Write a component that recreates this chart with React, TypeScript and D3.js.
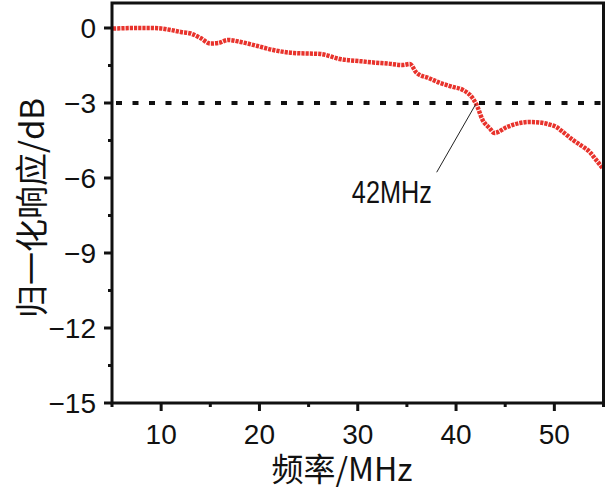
import React from 'react';
import * as d3 from 'd3';

// frequency (MHz) and normalized response (dB)
const freq = [5.1, 6, 7, 8, 9, 10, 11, 12, 13, 14, 15, 15.8, 16.8, 18.1, 19.8, 21.4, 23.5, 26.2, 28.2, 30.3, 31.6, 33, 34.6, 35.3, 36.0, 37.2, 38.4, 39.6, 40.7, 41.6, 42.1, 42.7, 43.4, 43.9, 45.2, 46.5, 47.5, 48.5, 49.4, 50.2, 51.0, 51.9, 52.8, 53.6, 54.2, 54.9];
const response = [-0.02, -0.01, 0, 0, 0, -0.02, -0.08, -0.16, -0.22, -0.4, -0.62, -0.6, -0.48, -0.56, -0.72, -0.88, -1.0, -1.04, -1.24, -1.33, -1.38, -1.42, -1.48, -1.44, -1.8, -2.0, -2.2, -2.35, -2.48, -2.76, -3.08, -3.68, -4.0, -4.2, -3.96, -3.8, -3.76, -3.78, -3.85, -3.96, -4.2, -4.48, -4.72, -4.96, -5.25, -5.6];

const xTicks = [10, 20, 30, 40, 50];
const xMinor = [5, 15, 25, 35, 45, 55];
const yTicks = [0, -3, -6, -9, -12, -15];
const yMinor = [-1.5, -4.5, -7.5, -10.5, -13.5];
const threshold = -3;
const cutoff = { f: 42.1, v: -3.05, label: '42MHz', labelF: 29.4, labelV: -7 };

const W = 614;
const H = 496;
const left = 112;
const right = 603.5;
const top = 3;
const bottom = 403;

const font = '"Liberation Sans", Arial, sans-serif';
const cjk = '"Noto Sans CJK SC", "Liberation Sans", sans-serif';

export default function App() {
  const x = d3.scaleLinear().domain([5, 55]).range([left, right]);
  const y = d3.scaleLinear().domain([-15, 1]).range([bottom, top]);

  const points = freq.map((f, i) => [f, response[i]] as [number, number]);
  const line = d3
    .line<[number, number]>()
    .x(d => x(d[0]))
    .y(d => y(d[1]))
    .curve(d3.curveMonotoneX);

  const minus = (v: number) => (v < 0 ? '\u2212' + Math.abs(v) : String(v));

  return (
    <svg width={W} height={H} style={{ position: 'absolute', left: 0, top: 0, background: '#fff' }}>
      {/* -3 dB reference line */}
      <line
        x1={x(5) + 4}
        x2={x(55) - 2}
        y1={y(threshold)}
        y2={y(threshold)}
        stroke="#111"
        strokeWidth={4}
        strokeDasharray="6 10.5"
      />

      {/* response curve */}
      <path d={line(points) || ''} fill="none" stroke="#e8332c" strokeWidth={4.5} strokeDasharray="3.2 1" />

      {/* annotation */}
      <line
        x1={x(cutoff.f) - 1}
        y1={y(cutoff.v)}
        x2={x(cutoff.f) - 40}
        y2={y(cutoff.v) + 68}
        stroke="#222"
        strokeWidth={1}
      />
      <text
        x={x(cutoff.labelF)}
        y={y(cutoff.labelV)}
        fontFamily={font}
        fontSize={31}
        textLength={80}
        lengthAdjust="spacingAndGlyphs"
        fill="#111"
      >
        {cutoff.label}
      </text>

      {/* frame */}
      <rect x={left} y={top} width={right - left} height={bottom - top} fill="none" stroke="#111" strokeWidth={3} />

      {/* x ticks */}
      {xTicks.map(t => (
        <g key={'x' + t}>
          <line x1={x(t)} x2={x(t)} y1={bottom} y2={bottom + 8} stroke="#111" strokeWidth={3} />
          <text x={x(t)} y={444} textAnchor="middle" fontFamily={font} fontSize={28} fill="#111">
            {t}
          </text>
        </g>
      ))}
      {xMinor.map(t => (
        <line key={'xm' + t} x1={x(t)} x2={x(t)} y1={bottom} y2={bottom + 4} stroke="#111" strokeWidth={3} />
      ))}

      {/* y ticks */}
      {yTicks.map(t => (
        <g key={'y' + t}>
          <line x1={left} x2={left - 8} y1={y(t)} y2={y(t)} stroke="#111" strokeWidth={3} />
          <text x={96} y={y(t) + 10} textAnchor="end" fontFamily={font} fontSize={28} fill="#111">
            {minus(t)}
          </text>
        </g>
      ))}
      {yMinor.map(t => (
        <line key={'ym' + t} x1={left} x2={left - 4} y1={y(t)} y2={y(t)} stroke="#111" strokeWidth={3} />
      ))}

      {/* axis titles */}
      <text x={342} y={481} textAnchor="middle" fontFamily={cjk} fontSize={32} fill="#111">
        频率/MHz
      </text>
      <text
        transform={`translate(44, ${208}) rotate(-90)`}
        textAnchor="middle"
        fontFamily={cjk}
        fontSize={33}
        fill="#111"
      >
        归一化响应/dB
      </text>
    </svg>
  );
}
